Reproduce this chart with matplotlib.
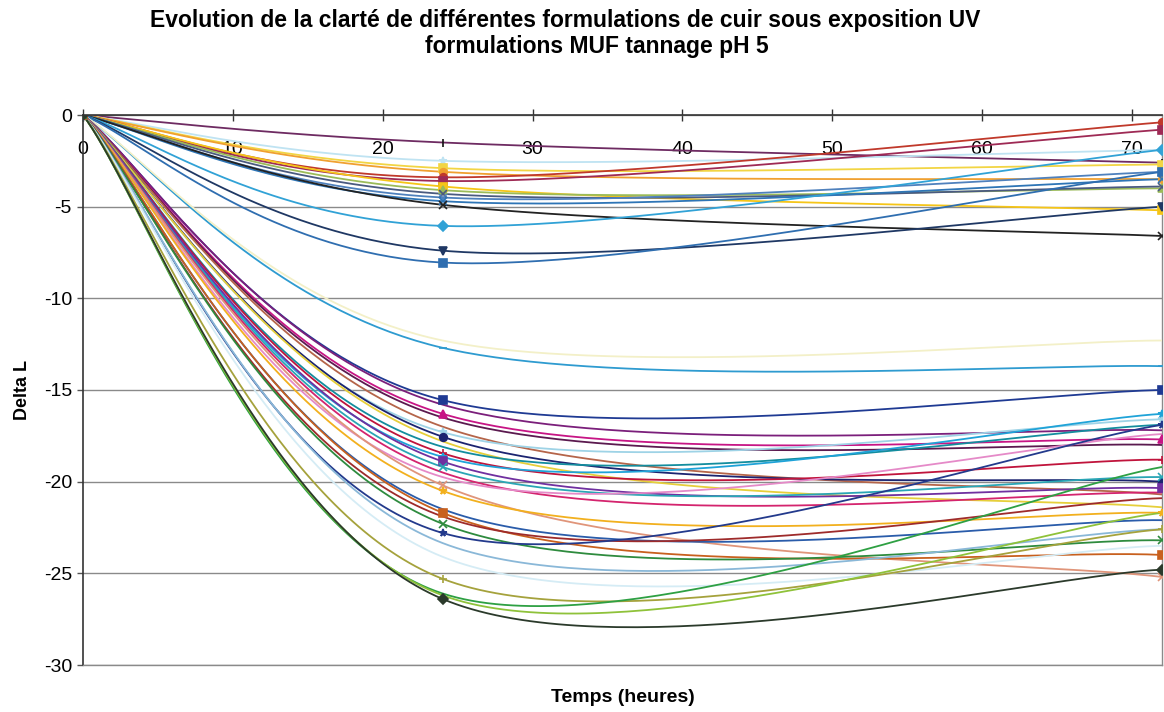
import numpy as np
import matplotlib
matplotlib.use('Agg')
import matplotlib.pyplot as plt

plt.rcParams['font.family'] = ['Liberation Sans', 'DejaVu Sans']
plt.rcParams['axes.unicode_minus'] = False

# ---- data -------------------------------------------------------------
hours = [0, 24, 72]

delta_l_24h = [-1.5, -2.5, -2.9, -3.1, -3.4, -3.6, -3.9, -4.1, -4.3, -4.5,
               -4.7, -4.9, -6.05, -7.4, -8.05, -12.7, -12.3,
               -15.55, -15.8, -16.3, -16.5, -17.0, -17.3, -17.55, -17.8, -18.1,
               -18.45, -18.65, -18.9, -19.2, -19.5, -19.75, -20.2, -20.5,
               -21.5, -21.7, -21.9, -22.3, -22.8, -23.35, -24.1, -25.3,
               -26.1, -26.2, -26.4]

delta_l_72h = [-2.6, -1.9, -2.7, -3.5, -0.4, -0.8, -5.2, -4.0, -3.9, -3.1,
               -3.5, -6.6, -1.9, -5.0, -3.1, -13.7, -12.3,
               -15.0, -17.2, -17.7, -18.0, -20.7, -16.6, -20.0, -21.4, -16.9,
               -18.8, -16.3, -20.35, -19.75, -20.6, -17.4, -25.2, -21.7,
               -22.1, -24.0, -20.9, -23.2, -16.9, -22.6, -23.5, -22.6,
               -19.2, -21.7, -24.8]

line_colors = ['#6E2B62', '#BFE3F2', '#F2D544', '#F0A030', '#C0392B', '#9E2A55',
               '#F5C518', '#9BBB59', '#4A5A80', '#4F81BD', '#2E75B6', '#222222',
               '#31A2D6', '#1F3864', '#2F6EB0', '#2E9BD0', '#F3F0C8',
               '#1F3A93', '#7B1F7B', '#C71585', '#5B1A4F', '#B5654A', '#9ED3E6',
               '#1C2470', '#E6CF3A', '#138D9E', '#C0143C', '#1FA3D8', '#7030A0',
               '#2AA6B5', '#D4246E', '#E58AC8', '#E0957A', '#F2B01E', '#2A5CAA',
               '#C8601E', '#9E2B2B', '#2E8B3E', '#233A8C', '#8AB8D8', '#D5ECF5',
               '#A5A23C', '#2EA043', '#8FC23A', '#2B3A2B']

marker_styles = ['|', '*', 's', 'o', 'o', 's', 's', '^', 'x', 'x', 'x', 'x',
                 'D', 'v', 's', '_', '',
                 's', '', '^', '', '', '*', 'o', '', '', '+', '*', 's', 'x', '',
                 '', 'x', '*', '', 's', '', 'x', '*', '', '', '+', '', '', 'D']


def excel_smooth(xs, ys, n=80):
    """Excel-like smoothed line: cubic Bezier segments through the points."""
    P = np.column_stack([xs, ys]).astype(float)
    Pe = np.vstack([P[0], P, P[-1]])
    t = np.linspace(0, 1, n)[:, None]
    parts = []
    for i in range(len(P) - 1):
        p0, p3 = Pe[i + 1], Pe[i + 2]
        c1 = p0 + (Pe[i + 2] - Pe[i]) / 6.0
        c2 = p3 - (Pe[i + 3] - Pe[i + 1]) / 6.0
        seg = ((1 - t) ** 3 * p0 + 3 * (1 - t) ** 2 * t * c1
               + 3 * (1 - t) * t ** 2 * c2 + t ** 3 * p3)
        parts.append(seg if i == 0 else seg[1:])
    arr = np.vstack(parts)
    return arr[:, 0], arr[:, 1]


fig = plt.figure(figsize=(11.64, 7.12), dpi=100)
ax = fig.add_axes([83 / 1164, 1 - 665 / 712, (1162 - 83) / 1164, (665 - 115) / 712])

for v24, v72, col, mk in zip(delta_l_24h, delta_l_72h, line_colors, marker_styles):
    ys = [0.0, v24, v72]
    sx, sy = excel_smooth(hours, ys)
    ax.plot(sx, sy, color=col, lw=1.3, solid_capstyle='round', zorder=3)
    if mk:
        mcol = '#111111' if mk == '|' else col
        ax.plot(hours, ys, linestyle='none', marker=mk, markersize=5.5,
                color=mcol, markeredgecolor=mcol, markeredgewidth=1.2, zorder=4)

ax.set_xlim(0, 72)
ax.set_ylim(-30, 0)

ax.set_yticks(np.arange(-30, 1, 5))
ax.set_yticklabels([str(v) for v in range(-30, 1, 5)])
ax.set_xticks(np.arange(0, 71, 10))
ax.set_xticklabels([str(v) for v in range(0, 71, 10)])

ax.xaxis.tick_top()
ax.xaxis.set_label_position('bottom')
ax.tick_params(axis='x', which='both', top=True, bottom=False, labeltop=True,
               labelbottom=False, direction='inout', length=8, width=1.0,
               color='#333333', pad=-35, labelsize=14)
ax.tick_params(axis='y', direction='out', length=4, width=1.0, color='#555555',
               labelsize=14, pad=4)

ax.yaxis.grid(True, color='#8a8a8a', lw=1.0)
ax.set_axisbelow(True)
for side in ['left', 'top']:
    ax.spines[side].set_color('#333333')
    ax.spines[side].set_linewidth(1.2)
for side in ['right', 'bottom']:
    ax.spines[side].set_color('#8a8a8a')
    ax.spines[side].set_linewidth(1.0)
ax.spines['top'].set_zorder(5)

ax.set_xlabel('Temps (heures)', fontsize=14, fontweight='bold', labelpad=17)
ax.set_ylabel('Delta L', fontsize=13, fontweight='bold', labelpad=9)

fig.text(565 / 1164, 1 - 20 / 712, 'Evolution de la clarté de différentes formulations de cuir sous exposition UV',
         ha='center', va='center', fontsize=16.5, fontweight='bold')
fig.text(597 / 1164, 1 - 46 / 712, 'formulations MUF tannage pH 5',
         ha='center', va='center', fontsize=16.5, fontweight='bold')

fig.savefig('out.png', dpi=100)
